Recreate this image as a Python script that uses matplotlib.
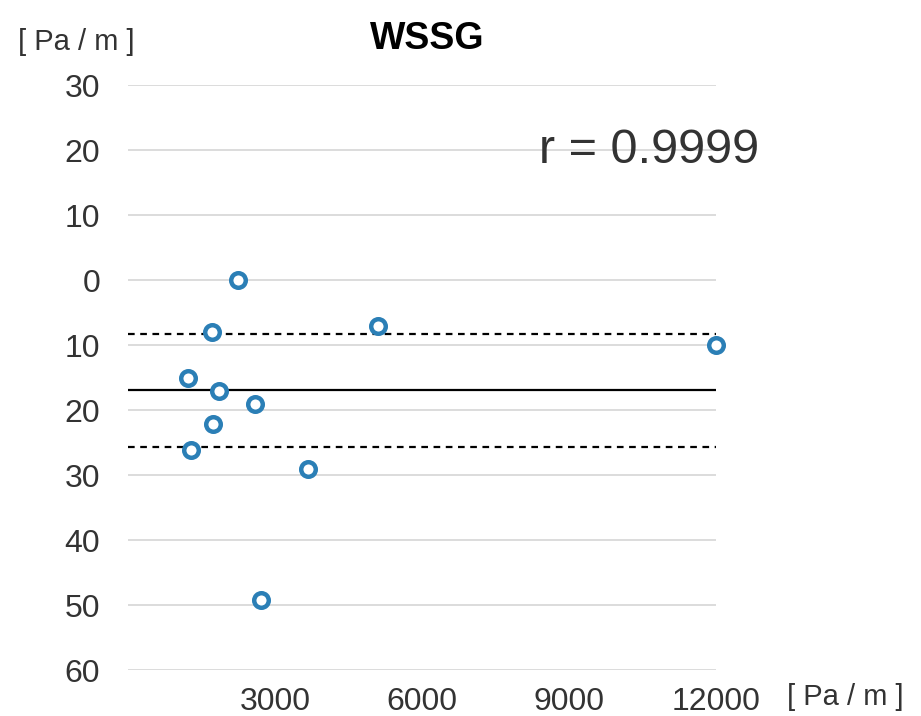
import numpy as np
import matplotlib
matplotlib.use("Agg")
import matplotlib.pyplot as plt
from matplotlib.ticker import FuncFormatter

# mean of the two measurements [Pa/m] and their difference [Pa/m]
x = [2245, 1714, 5102, 12000, 1224, 1857, 2592, 1735, 1286, 3673, 2714]
y = [0.0, -8.0, -7.1, -10.0, -15.1, -17.1, -19.1, -22.2, -26.2, -29.1, -49.2]

mean_diff = -16.9
upper_loa = -8.3
lower_loa = -25.6

yticks = [30, 20, 10, 0, -10, -20, -30, -40, -50, -60]
xticks = [3000, 6000, 9000, 12000]

plt.rcParams['font.family'] = ['Liberation Sans', 'DejaVu Sans']

fig = plt.figure(figsize=(9.21, 7.16), dpi=100)
ax = fig.add_axes([0.139, 0.064, 0.638, 0.817])

for yt in yticks:
    ax.axhline(yt, color='#d9d9d9', lw=1.3, zorder=0)

ax.axhline(mean_diff, color='black', lw=1.6, zorder=1)
ax.axhline(upper_loa, color='black', lw=1.6, ls=(0, (3, 2.5)), zorder=1)
ax.axhline(lower_loa, color='black', lw=1.6, ls=(0, (3, 2.5)), zorder=1)

ax.scatter(x, y, s=110, facecolors='white', edgecolors='#2b7fb6', linewidths=3.2,
           zorder=3, clip_on=False)

ax.set_xlim(0, 12000)
ax.set_ylim(-60, 30)
ax.set_yticks(yticks)
ax.set_xticks(xticks)
ax.yaxis.set_major_formatter(FuncFormatter(lambda v, p: '%d' % abs(v)))
ax.tick_params(length=0, labelsize=23, colors='#333333')
ax.tick_params(axis='x', pad=12)
ax.tick_params(axis='y', pad=20)
for s in ax.spines.values():
    s.set_visible(False)

ax.set_title('WSSG', fontsize=27, fontweight='bold', pad=26, x=0.51)
fig.text(0.02, 0.93, '[ Pa / m ]', fontsize=21, color='#333333')
fig.text(0.855, 0.015, '[ Pa / m ]', fontsize=21, color='#333333')
ax.text(8400, 20, 'r = 0.9999', fontsize=35, color='#333333', va='center')

fig.savefig('out.png', dpi=100)
